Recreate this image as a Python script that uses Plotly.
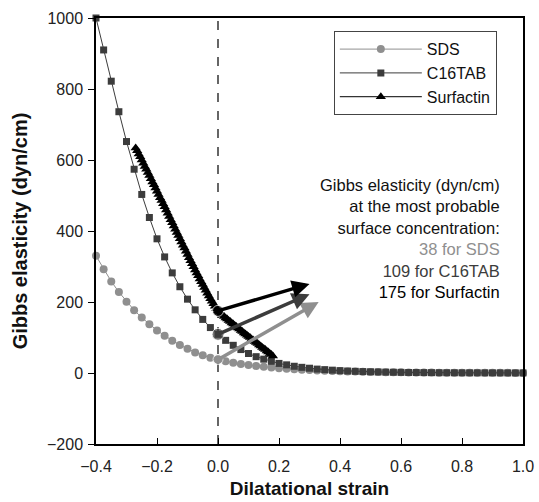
import plotly.graph_objects as go

# Strain grid shared by the SDS and C16TAB curves
strain = [-0.400, -0.375, -0.350, -0.325, -0.300, -0.275, -0.250, -0.225, -0.200, -0.175,
          -0.150, -0.125, -0.100, -0.075, -0.050, -0.025, 0.000, 0.025, 0.050, 0.075,
          0.100, 0.125, 0.150, 0.175, 0.200, 0.225, 0.250, 0.275, 0.300, 0.325,
          0.350, 0.375, 0.400, 0.425, 0.450, 0.475, 0.500, 0.525, 0.550, 0.575,
          0.600, 0.625, 0.650, 0.675, 0.700, 0.725, 0.750, 0.775, 0.800, 0.825,
          0.850, 0.875, 0.900, 0.925, 0.950, 0.975, 1.000]

sds = [330, 292, 258, 228, 201, 177, 156, 137, 120, 105,
       91, 79, 68, 58, 50, 43, 38, 33, 29, 25.5,
       22.5, 20, 17.5, 15.5, 13.5, 12, 10.5, 9.3, 8.2, 7.2,
       6.4, 5.6, 5, 4.4, 3.9, 3.4, 3, 2.7, 2.4, 2.1,
       1.9, 1.7, 1.5, 1.3, 1.2, 1.05, 0.95, 0.85, 0.75, 0.65,
       0.6, 0.55, 0.5, 0.45, 0.4, 0.35, 0.3]

c16tab = [1000, 910, 822, 736, 652, 574, 503, 438, 378, 327,
          282, 243, 208, 178, 151, 128, 109, 92, 78, 66,
          55, 46, 39, 33, 27, 23, 19, 16, 13.5, 11,
          9.5, 8, 6.7, 5.6, 4.7, 4, 3.4, 2.9, 2.5, 2.1,
          1.8, 1.5, 1.3, 1.1, 0.95, 0.8, 0.7, 0.6, 0.5, 0.45,
          0.4, 0.35, 0.3, 0.25, 0.2, 0.2, 0.2]

# Surfactin is sampled on a finer, shorter strain range
strain_surfactin = [
    -0.270, -0.265, -0.260, -0.255, -0.250, -0.245, -0.240, -0.235, -0.230, -0.225,
    -0.220, -0.215, -0.210, -0.205, -0.200, -0.195, -0.190, -0.185, -0.180, -0.175,
    -0.170, -0.165, -0.160, -0.155, -0.150, -0.145, -0.140, -0.135, -0.130, -0.125,
    -0.120, -0.115, -0.110, -0.105, -0.100, -0.095, -0.090, -0.085, -0.080, -0.075,
    -0.070, -0.065, -0.060, -0.055, -0.050, -0.045, -0.040, -0.035, -0.030, -0.025,
    -0.020, -0.015, -0.010, -0.005, 0.000, 0.005, 0.010, 0.015, 0.020, 0.025,
    0.030, 0.035, 0.040, 0.045, 0.050, 0.055, 0.060, 0.065, 0.070, 0.075,
    0.080, 0.085, 0.090, 0.095, 0.100, 0.105, 0.110, 0.115, 0.120, 0.125,
    0.130, 0.135, 0.140, 0.145, 0.150, 0.155, 0.160, 0.165, 0.170, 0.175,
    0.180]
surfactin = [
    634, 626, 617, 609, 600, 591, 582, 574, 565, 556,
    547, 538, 530, 521, 512, 503, 494, 486, 477, 468,
    459, 450, 441, 432, 423, 414, 405, 396, 387, 378,
    369, 360, 352, 343, 334, 325, 316, 308, 299, 290,
    282, 274, 265, 257, 249, 241, 233, 225, 217, 209,
    202, 195, 188, 181, 175, 171, 167, 163, 159, 155,
    152, 148, 145, 141, 138, 134, 131, 127, 124, 120,
    117, 113, 110, 106, 103, 100, 96, 93, 89, 86,
    83, 79, 76, 72, 69, 66, 62, 59, 55, 52,
    48]

# Elasticity at the most probable surface concentration (zero strain)
names = ["SDS", "C16TAB", "Surfactin"]
probable_elasticity = [38, 109, 175]
arrow_tip_x = [0.33, 0.30, 0.30]
arrow_tip_y = [200, 222, 251]

colors = ["#8f8f8f", "#3c3c3c", "#000000"]
font_family = "Liberation Sans, Arial, sans-serif"

fig = go.Figure()

fig.add_trace(go.Scatter(
    x=strain, y=sds, name="SDS", mode="lines+markers", cliponaxis=False,
    line=dict(color=colors[0], width=1),
    marker=dict(symbol="circle", size=8, color=colors[0]),
))
fig.add_trace(go.Scatter(
    x=strain, y=c16tab, name="C16TAB", mode="lines+markers", cliponaxis=False,
    line=dict(color=colors[1], width=1),
    marker=dict(symbol="square", size=7, color=colors[1]),
))
fig.add_trace(go.Scatter(
    x=strain_surfactin, y=surfactin, name="Surfactin", mode="lines+markers",
    cliponaxis=False,
    line=dict(color=colors[2], width=1),
    marker=dict(symbol="triangle-up", size=9, color=colors[2]),
))

# Highlighted points at zero strain
fig.add_trace(go.Scatter(
    x=[0, 0, 0], y=probable_elasticity, mode="markers", showlegend=False,
    marker=dict(symbol="circle", size=[10, 12, 11], color=colors),
))

# Zero-strain reference line
fig.add_shape(type="line", x0=0, x1=0, y0=-200, y1=1000, xref="x", yref="y",
              line=dict(color="black", width=1.2, dash="dash"), layer="below")

# Arrows from the highlighted points
for i in range(3):
    fig.add_annotation(
        x=arrow_tip_x[i], y=arrow_tip_y[i], ax=0, ay=probable_elasticity[i],
        xref="x", yref="y", axref="x", ayref="y", text="",
        showarrow=True, arrowhead=2, arrowsize=1.0, arrowwidth=3.5,
        arrowcolor=colors[i],
    )

label_lines = [
    "Gibbs elasticity (dyn/cm)",
    "at the most probable",
    "surface concentration:",
] + [
    f"<span style='color:{colors[i]}'>{probable_elasticity[i]} for {names[i]}</span>"
    for i in range(3)
]
fig.add_annotation(
    x=0.950, y=0.634, xref="paper", yref="paper", xanchor="right", yanchor="top",
    align="right", showarrow=False, text="<br>".join(label_lines),
    font=dict(family=font_family, size=16.5, color="#111111"),
)

axis_common = dict(
    showline=True, linecolor="black", linewidth=1.5, mirror=True,
    showgrid=False, zeroline=False, ticklen=6, tickwidth=1.2, tickcolor="black",
    tickfont=dict(family=font_family, size=16, color="#222222"),
    automargin=False,
)

fig.update_xaxes(
    range=[-0.4, 1.0], tickvals=[-0.4, -0.2, 0.0, 0.2, 0.4, 0.6, 0.8, 1.0],
    tickformat=".1f", ticks="inside", ticklabelstandoff=7,
    title=dict(text="<b>Dilatational strain</b>", standoff=8,
               font=dict(family=font_family, size=19, color="#111111")),
    **axis_common,
)
fig.update_yaxes(
    range=[-200, 1000], tickvals=[-200, 0, 200, 400, 600, 800, 1000],
    ticks="outside", ticklabelstandoff=2,
    title=dict(text="<b>Gibbs elasticity (dyn/cm)</b>", standoff=14,
               font=dict(family=font_family, size=20, color="#111111")),
    **axis_common,
)

fig.update_layout(
    width=539, height=502,
    margin=dict(l=96, r=16, t=18, b=58),
    plot_bgcolor="white", paper_bgcolor="white",
    font=dict(family=font_family, color="#111111"),
    showlegend=True,
    legend=dict(
        x=0.557, y=0.969, xanchor="left", yanchor="top",
        bordercolor="#444444", borderwidth=1, bgcolor="white",
        font=dict(family=font_family, size=16, color="#111111"),
        itemwidth=82,
    ),
)

fig.write_html("out.html")
